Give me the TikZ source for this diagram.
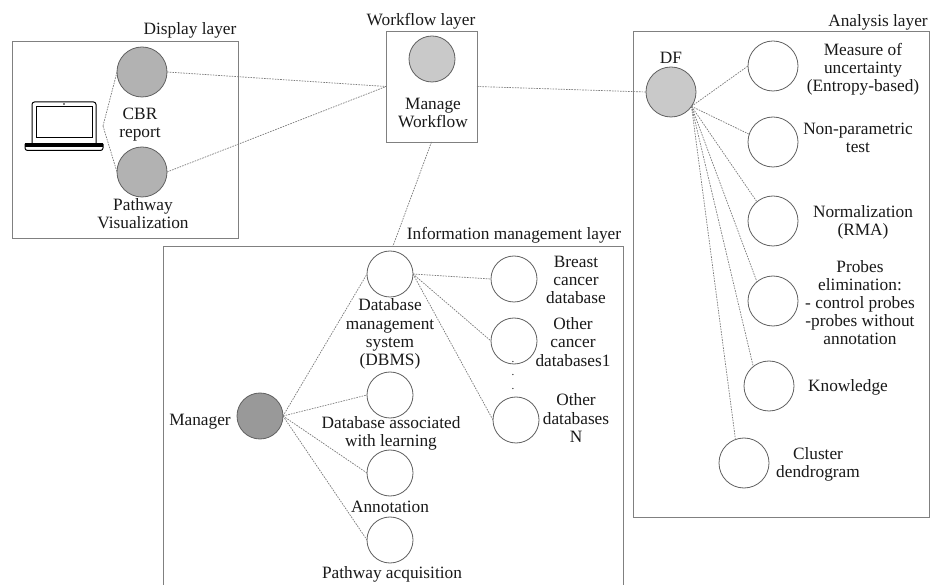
\documentclass[tikz,border=0pt]{standalone}
\usepackage{fontspec}
\setmainfont{Liberation Serif}
\definecolor{boxc}{gray}{0.5}
\definecolor{ringc}{gray}{0.38}
\definecolor{linkc}{gray}{0.48}
\definecolor{darkf}{gray}{0.6}
\definecolor{midf}{gray}{0.7}
\definecolor{lightf}{gray}{0.79}
\tikzset{
  layerbox/.style={draw=boxc,line width=0.9pt,fill=white,rectangle,inner sep=0pt,outer sep=0pt},
  ball/.style={circle,draw=ringc,line width=0.8pt,fill=white,inner sep=0pt,outer sep=0pt,minimum size=#1},
  ball/.default=46pt,
  bigball/.style={ball=50pt},
  link/.style={draw=linkc,line width=0.7pt,dash pattern=on 1.6pt off 1.1pt},
  lab/.style={align=center,inner sep=0pt,yshift=-1.5pt,font=\fontsize{17.3}{18.2}\selectfont,text=black!90},
}
\begin{document}
\begin{tikzpicture}[x=1pt,y=-1pt]
\useasboundingbox (0,0) rectangle (930,585);
\clip (0,0) rectangle (930,585);
% layer boxes
\node[layerbox,anchor=north west,minimum width=226pt,minimum height=197pt] (displaybox) at (12,41) {};
\node[layerbox,anchor=north west,minimum width=91pt,minimum height=111pt] (wfbox) at (386,31) {};
\node[layerbox,anchor=north west,minimum width=460pt,minimum height=350pt] (infobox) at (163,246) {};
\node[layerbox,anchor=north west,minimum width=296pt,minimum height=486pt] (anbox) at (633,31) {};
% balls
\node[ball=50pt,fill=midf] (cbr) at (142,72) {};
\node[ball=50pt,fill=midf] (pathvis) at (142,172) {};
\node[ball=46pt,fill=lightf] (manage) at (432,59) {};
\node[ball=50pt,fill=lightf] (df) at (671,92) {};
\node[bigball] (measure) at (773,66) {};
\node[bigball] (nonpar) at (773,142) {};
\node[bigball] (norm) at (773,221) {};
\node[bigball] (probes) at (773,301) {};
\node[bigball] (know) at (769,386) {};
\node[bigball] (cluster) at (744,463) {};
\node[ball,fill=darkf] (manager) at (260,416) {};
\node[ball] (dbms) at (390,274) {};
\node[ball] (dbal) at (390,395) {};
\node[ball] (annot) at (390,473) {};
\node[ball] (pacq) at (390,540) {};
\node[ball] (breast) at (514,279) {};
\node[ball] (other) at (514,341) {};
\node[ball] (otherN) at (516,420) {};
% laptop
\coordinate (laptop) at (103,126);
\draw[black,line width=1pt,rounded corners=2.5pt] (32,143) -- (32,102) -- (96,102) -- (96,143);
\draw[black,line width=1pt] (36,107) rectangle (92,138);
\fill[black] (64,104) circle (0.9pt);
\fill[black] (25,143) rectangle (103,147);
\draw[black,line width=1pt,rounded corners=2.5pt] (25,144) -- (25,150.5) -- (103,150.5) -- (103,144);
% connectors
\coordinate (infotop) at (393,246);
\draw[link] (laptop) -- (cbr.west);
\draw[link] (laptop) -- (pathvis.west);
\draw[link] (cbr.east) -- (wfbox.west);
\draw[link] (pathvis.east) -- (wfbox.west);
\draw[link] (wfbox.east) -- (df.west);
\draw[link] (wfbox.south) -- (infotop);
\draw[link] (df.-35) -- (measure.west);
\draw[link] (df.-35) -- (nonpar.162);
\draw[link] (df.-35) -- (norm.130);
\draw[link] (df.-35) -- (probes.130);
\draw[link] (df.-35) -- (know.129);
\draw[link] (df.-35) -- (cluster.110);
\draw[link] (manager.east) -- (dbms.west);
\draw[link] (manager.east) -- (dbal.west);
\draw[link] (manager.east) -- (annot.west);
\draw[link] (manager.east) -- (pacq.west);
\draw[link] (dbms.east) -- (breast.west);
\draw[link] (dbms.east) -- (other.west);
\draw[link] (dbms.east) -- (otherN.west);
% labels
\node[lab] (tdisplay) at (190,29) {Display layer};
\node[lab] (twf) at (421,20) {Workflow layer};
\node[lab] (tinfo) at (514,234) {Information management layer};
\node[lab] (tan) at (878,21) {Analysis layer};
\node[lab] (tcbr) at (140,123) {CBR\\report};
\node[lab] (tpv) at (143,212) {Pathway\\Visualization};
\node[lab] (tmw) at (433,111.5) {Manage\\Workflow};
\node[lab] (tmgr) at (200,420) {Manager};
\node[lab] (tdf) at (671,56) {DF};
\node[lab] (tdbms) at (390,332.5) {Database\\management\\system\\(DBMS)};
\node[lab] (tdbal) at (391,432) {Database associated\\with learning};
\node[lab] (tannot) at (390,505) {Annotation};
\node[lab] (tpacq) at (392,573) {Pathway acquisition};
\node[lab] (tbreast) at (576,278.5) {Breast\\cancer\\database};
\node[lab] (tother) at (573,340.5) {Other\\cancer\\databases1};
\node[lab] (totherN) at (576,416.5) {Other\\databases\\N};
\node[lab,font=\fontsize{11}{13.5}\selectfont] (tdots) at (513,374) {.\\.\\.};
\node[lab] (tmeas) at (863,68) {Measure of\\uncertainty\\(Entropy-based)};
\node[lab] (tnp) at (858,136.5) {Non-parametric\\test};
\node[lab] (tnorm) at (863,221) {Normalization\\(RMA)};
\node[lab] (tprobes) at (860,301) {Probes\\elimination:\\- control probes\\-probes without\\annotation};
\node[lab] (tknow) at (848,386) {Knowledge};
\node[lab] (tclu) at (818,463) {Cluster\\dendrogram};
\end{tikzpicture}
\end{document}
